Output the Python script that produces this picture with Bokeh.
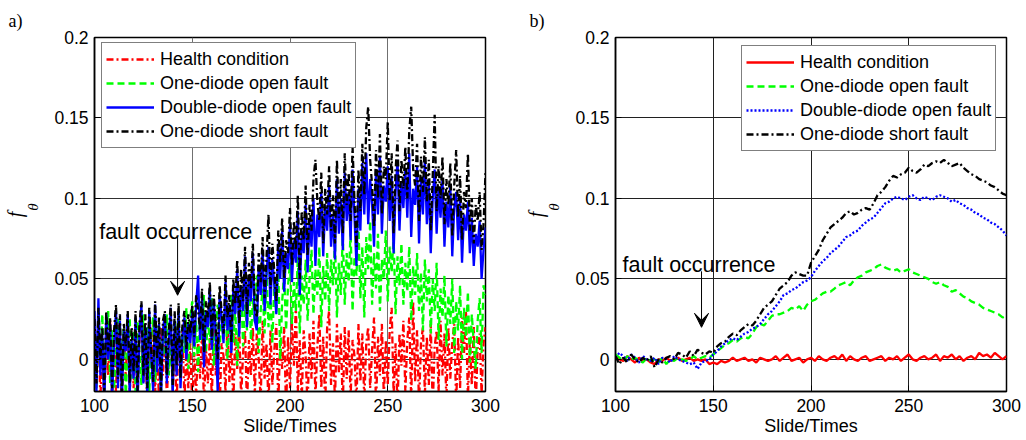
from bokeh.plotting import figure
from bokeh.layouts import row
from bokeh.models import (Legend, LegendItem, Label, Arrow, VeeHead, FixedTicker,
                          Range1d, CustomJSTickFormatter, LinearAxis, Title)
from bokeh.embed import file_html
from bokeh.resources import INLINE

# ---------------- data ----------------
x_a = list(range(100, 301))
x_b = list(range(100, 301, 2))

x_ticks = [100, 150, 200, 250, 300]
y_ticks = [0, 0.05, 0.1, 0.15, 0.2]
series_names = ["Health condition", "One-diode open fault",
                "Double-diode open fault", "One-diode short fault"]

health_a = [
    0.020, -0.015, 0.026, -0.025, 0.010, -0.030, 0.018, -0.010, 0.024, -0.028,
    0.015, -0.020, 0.022, 0.000, -0.030, 0.019, -0.012, 0.025, -0.022, 0.008,
    -0.018, 0.020, -0.026, 0.012, 0.028, -0.015, 0.017, -0.030, 0.010, -0.005,
    0.024, -0.022, 0.014, -0.028, 0.020, -0.010, 0.022, -0.025, 0.005, 0.018,
    -0.020, 0.012, -0.030, 0.016, -0.008, 0.020, -0.026, 0.006, -0.018, 0.010,
    -0.030, 0.004, -0.022, 0.012, -0.012, 0.018, -0.028, 0.008, -0.015, 0.014,
    -0.025, 0.020, -0.010, 0.015, -0.032, 0.010, 0.002, -0.020, 0.024, -0.014,
    0.010, -0.028, 0.016, -0.006, 0.022, -0.024, 0.004, 0.018, -0.030, 0.012,
    -0.010, 0.020, -0.022, 0.016, 0.000, -0.026, 0.024, -0.012, 0.010, -0.030,
    0.018, -0.016, 0.006, 0.022, -0.028, 0.012, -0.006, 0.020, -0.032, 0.014,
    -0.018, 0.022, -0.004, 0.034, -0.020, 0.012, -0.026, 0.018, 0.002, -0.030,
    0.016, -0.012, 0.024, -0.024, 0.008, 0.028, -0.018, 0.014, -0.030, 0.020,
    0.030, -0.016, 0.010, -0.026, 0.022, -0.008, 0.016, -0.030, 0.020, -0.012,
    0.018, -0.024, 0.012, 0.002, -0.028, 0.022, -0.014, 0.016, -0.026, 0.010,
    0.020, -0.018, 0.006, 0.026, -0.030, 0.014, -0.010, 0.022, -0.024, 0.012,
    -0.016, 0.018, 0.032, -0.022, 0.010, -0.030, 0.016, -0.004, 0.024, -0.020,
    0.012, 0.026, -0.026, 0.036, -0.014, 0.018, -0.028, 0.010, 0.020, -0.022,
    0.014, -0.016, 0.022, -0.030, 0.008, 0.018, -0.020, 0.024, -0.010, 0.016,
    -0.026, 0.020, -0.012, 0.010, 0.022, -0.028, 0.014, -0.018, 0.026, 0.004,
    0.030, -0.024, 0.012, -0.016, 0.020, -0.030, 0.008, 0.016, -0.022, 0.010,
    0.020]

one_open_a = [
    0.010, -0.018, 0.022, -0.005, 0.028, -0.020, 0.012, 0.030, -0.015, 0.018,
    -0.022, 0.015, 0.025, -0.010, 0.008, 0.020, -0.025, 0.014, 0.026, -0.012,
    0.018, -0.020, 0.024, 0.005, -0.016, 0.028, -0.008, 0.020, -0.022, 0.016,
    0.026, -0.014, 0.010, 0.022, -0.020, 0.018, 0.002, 0.028, -0.010, 0.015,
    -0.018, 0.024, 0.008, 0.030, -0.012, 0.020, 0.004, 0.032, -0.006, 0.026,
    0.036, 0.002, 0.024, -0.008, 0.030, 0.012, 0.040, 0.004, 0.026, 0.010,
    0.038, -0.004, 0.022, 0.034, 0.006, 0.028, 0.012, 0.036, 0.000, 0.024,
    0.040, 0.010, 0.032, -0.004, 0.026, 0.046, 0.008, 0.034, 0.018, 0.050,
    0.012, 0.038, 0.022, 0.052, 0.004, 0.030, 0.044, 0.016, 0.056, 0.020,
    0.040, 0.010, 0.050, 0.028, 0.058, 0.000, 0.036, 0.054, 0.018, 0.046,
    0.060, 0.022, 0.048, 0.030, 0.064, 0.016, 0.052, 0.034, 0.062, 0.024,
    0.050, 0.068, 0.028, 0.056, 0.040, 0.070, 0.020, 0.058, 0.036, 0.066,
    0.030, 0.062, 0.046, 0.074, 0.026, 0.060, 0.040, 0.078, 0.034, 0.066,
    0.048, 0.080, 0.030, 0.064, 0.052, 0.084, 0.038, 0.070, 0.026, 0.076,
    0.056, 0.086, 0.034, 0.066, 0.044, 0.078, 0.030, 0.062, 0.050, 0.080,
    0.036, 0.070, 0.054, 0.076, 0.028, 0.064, 0.046, 0.072, 0.034, 0.060,
    0.042, 0.070, 0.024, 0.058, 0.040, 0.066, 0.030, 0.054, 0.018, 0.062,
    0.036, 0.056, 0.016, 0.050, 0.030, 0.060, 0.012, 0.044, 0.026, 0.052,
    0.008, 0.040, 0.022, 0.050, 0.004, 0.036, 0.018, 0.046, 0.000, 0.032,
    0.014, 0.042, -0.002, 0.028, 0.010, -0.006, 0.024, 0.038, 0.004, 0.046,
    0.040]

double_open_a = [
    0.030, -0.020, 0.038, -0.010, 0.015, -0.030, 0.028, 0.000, 0.022, -0.025,
    0.010, 0.030, -0.018, 0.024, -0.028, 0.018, 0.005, 0.028, -0.022, 0.012,
    -0.012, 0.026, -0.030, 0.016, 0.034, -0.015, 0.020, -0.025, 0.030, 0.002,
    -0.020, 0.034, -0.008, 0.022, -0.026, 0.018, 0.028, -0.015, 0.010, 0.032,
    -0.022, 0.024, -0.010, 0.030, -0.018, 0.014, 0.026, 0.000, 0.022, 0.010,
    0.030, 0.008, 0.034, 0.052, 0.012, 0.038, -0.005, 0.030, 0.020, 0.044,
    0.006, 0.036, 0.016, -0.020, 0.040, 0.026, 0.010, 0.048, 0.018, 0.034,
    0.004, 0.044, 0.028, 0.056, 0.014, 0.046, 0.030, 0.064, 0.020, 0.052,
    0.036, 0.066, 0.024, 0.018, 0.058, 0.040, 0.068, 0.030, 0.054, 0.070,
    0.034, 0.062, 0.046, 0.028, 0.072, 0.050, 0.080, 0.042, 0.066, 0.056,
    0.084, 0.048, 0.074, 0.060, 0.092, 0.040, 0.080, 0.066, 0.096, 0.054,
    0.086, 0.070, 0.100, 0.058, 0.090, 0.076, 0.104, 0.064, 0.096, 0.080,
    0.108, 0.070, 0.090, 0.062, 0.112, 0.078, 0.100, 0.068, 0.116, 0.086,
    0.104, 0.074, 0.118, 0.088, 0.058, 0.106, 0.080, 0.122, 0.090, 0.128,
    0.084, 0.112, 0.096, 0.070, 0.118, 0.090, 0.126, 0.078, 0.108, 0.098,
    0.120, 0.086, 0.114, 0.066, 0.104, 0.124, 0.080, 0.110, 0.094, 0.118,
    0.088, 0.128, 0.076, 0.106, 0.096, 0.120, 0.072, 0.112, 0.090, 0.124,
    0.084, 0.110, 0.066, 0.100, 0.118, 0.078, 0.106, 0.088, 0.112, 0.070,
    0.098, 0.082, 0.108, 0.064, 0.094, 0.104, 0.074, 0.100, 0.060, 0.090,
    0.080, 0.098, 0.066, 0.088, 0.058, 0.078, 0.070, 0.086, 0.050, 0.068,
    0.082]

one_short_a = [
    0.025, -0.015, 0.032, 0.000, 0.020, -0.020, 0.030, 0.005, 0.026, -0.018,
    0.018, 0.034, -0.012, 0.028, -0.022, 0.022, 0.008, 0.030, -0.015, 0.020,
    -0.008, 0.030, -0.020, 0.022, 0.036, -0.010, 0.028, -0.018, 0.032, 0.006,
    -0.014, 0.036, 0.000, 0.026, -0.020, 0.024, 0.030, -0.010, 0.018, 0.034,
    -0.016, 0.030, -0.004, 0.035, -0.012, 0.022, 0.030, 0.006, 0.028, 0.016,
    0.034, 0.014, 0.040, 0.030, 0.018, 0.044, 0.004, 0.036, 0.026, 0.048,
    0.012, 0.040, 0.022, 0.000, 0.046, 0.030, 0.016, 0.052, 0.026, 0.040,
    0.010, 0.050, 0.034, 0.062, 0.022, 0.056, 0.036, 0.070, 0.028, 0.060,
    0.044, 0.072, 0.032, 0.026, 0.066, 0.048, 0.076, 0.038, 0.064, 0.090,
    0.044, 0.072, 0.054, 0.036, 0.080, 0.060, 0.088, 0.050, 0.074, 0.066,
    0.094, 0.058, 0.086, 0.068, 0.102, 0.050, 0.092, 0.074, 0.108, 0.064,
    0.096, 0.080, 0.112, 0.124, 0.098, 0.086, 0.116, 0.072, 0.106, 0.090,
    0.120, 0.080, 0.102, 0.072, 0.124, 0.088, 0.112, 0.078, 0.128, 0.096,
    0.116, 0.086, 0.132, 0.098, 0.070, 0.118, 0.092, 0.134, 0.102, 0.144,
    0.157, 0.124, 0.108, 0.082, 0.130, 0.100, 0.140, 0.090, 0.120, 0.112,
    0.148, 0.098, 0.128, 0.078, 0.118, 0.136, 0.092, 0.124, 0.106, 0.132,
    0.100, 0.142, 0.157, 0.118, 0.108, 0.134, 0.086, 0.126, 0.104, 0.138,
    0.098, 0.124, 0.080, 0.114, 0.152, 0.092, 0.120, 0.100, 0.126, 0.084,
    0.112, 0.096, 0.122, 0.076, 0.108, 0.130, 0.088, 0.114, 0.074, 0.104,
    0.094, 0.128, 0.080, 0.100, 0.072, 0.096, 0.086, 0.104, 0.068, 0.084,
    0.116]

health_b = [
    0.002, 0.000, -0.001, 0.002, 0.000, -0.002, 0.001, -0.001, 0.000, -0.002,
    -0.003, 0.000, -0.001, 0.001, -0.001, 0.000, 0.001, -0.001, 0.000, 0.001,
    -0.001, 0.000, -0.001, 0.000, -0.003, -0.002, -0.003, -0.001, -0.002, -0.001,
    0.001, -0.001, 0.000, 0.001, -0.001, 0.000, -0.002, 0.001, 0.000, -0.001,
    0.000, 0.002, -0.001, 0.001, 0.003, -0.001, 0.000, 0.001, -0.002, 0.000,
    0.001, -0.001, 0.002, 0.000, -0.001, 0.001, 0.002, 0.000, 0.003, -0.001,
    0.002, 0.000, -0.001, 0.001, 0.002, -0.001, 0.000, 0.001, 0.002, -0.001,
    0.001, 0.000, 0.002, -0.001, 0.001, 0.003, 0.000, -0.001, 0.001, 0.002,
    0.000, 0.001, 0.003, -0.001, 0.002, 0.001, 0.003, 0.000, 0.002, -0.001,
    0.001, 0.002, 0.000, 0.004, 0.002, 0.003, 0.001, 0.004, 0.002, 0.000,
    0.002]

one_open_b = [
    0.003, 0.001, -0.001, 0.002, 0.000, 0.001, -0.001, -0.002, 0.001, -0.001,
    0.000, -0.002, 0.001, -0.003, 0.000, -0.001, 0.001, 0.000, -0.001, 0.000,
    0.002, 0.000, 0.001, 0.002, 0.001, 0.003, 0.005, 0.007, 0.009, 0.010,
    0.012, 0.011, 0.013, 0.014, 0.013, 0.016, 0.020, 0.022, 0.021, 0.024,
    0.027, 0.028, 0.028, 0.029, 0.030, 0.032, 0.031, 0.033, 0.030, 0.034,
    0.036, 0.037, 0.039, 0.041, 0.042, 0.042, 0.044, 0.046, 0.047, 0.048,
    0.046, 0.049, 0.051, 0.052, 0.054, 0.055, 0.056, 0.058, 0.059, 0.057,
    0.056, 0.055, 0.056, 0.054, 0.055, 0.056, 0.054, 0.053, 0.052, 0.051,
    0.050, 0.048, 0.047, 0.048, 0.046, 0.045, 0.042, 0.043, 0.041, 0.039,
    0.038, 0.036, 0.035, 0.034, 0.032, 0.031, 0.030, 0.029, 0.028, 0.026,
    0.027]

double_open_b = [
    0.001, 0.004, 0.002, -0.001, 0.003, 0.001, -0.002, 0.002, 0.000, -0.001,
    0.001, -0.003, 0.001, 0.000, -0.002, 0.002, 0.000, -0.001, -0.002, -0.003,
    -0.002, -0.006, -0.002, -0.001, 0.000, 0.003, 0.005, 0.008, 0.010, 0.012,
    0.013, 0.012, 0.014, 0.016, 0.017, 0.019, 0.020, 0.022, 0.025, 0.028,
    0.030, 0.033, 0.036, 0.040, 0.041, 0.043, 0.044, 0.046, 0.048, 0.049,
    0.051, 0.055, 0.058, 0.061, 0.063, 0.066, 0.068, 0.070, 0.073, 0.076,
    0.077, 0.079, 0.080, 0.083, 0.085, 0.087, 0.088, 0.091, 0.094, 0.097,
    0.098, 0.100, 0.101, 0.100, 0.099, 0.101, 0.102, 0.100, 0.099, 0.101,
    0.100, 0.099, 0.101, 0.102, 0.101, 0.100, 0.098, 0.099, 0.097, 0.096,
    0.094, 0.093, 0.091, 0.090, 0.088, 0.087, 0.085, 0.084, 0.082, 0.080,
    0.077]

one_short_b = [
    0.002, -0.003, 0.001, -0.002, 0.003, 0.000, -0.002, 0.001, -0.001, 0.002,
    -0.005, 0.000, -0.002, 0.001, 0.002, 0.000, 0.004, 0.003, 0.001, 0.005,
    0.002, 0.006, 0.004, 0.003, 0.005, 0.004, 0.008, 0.010, 0.011, 0.014,
    0.016, 0.015, 0.018, 0.020, 0.022, 0.021, 0.024, 0.028, 0.032, 0.034,
    0.036, 0.040, 0.044, 0.046, 0.048, 0.052, 0.054, 0.053, 0.052, 0.052,
    0.060, 0.064, 0.068, 0.074, 0.078, 0.082, 0.084, 0.086, 0.088, 0.091,
    0.092, 0.090, 0.091, 0.093, 0.094, 0.093, 0.097, 0.102, 0.104, 0.107,
    0.111, 0.114, 0.113, 0.115, 0.116, 0.119, 0.117, 0.116, 0.118, 0.121,
    0.120, 0.122, 0.123, 0.122, 0.124, 0.122, 0.120, 0.121, 0.122, 0.119,
    0.117, 0.115, 0.114, 0.112, 0.111, 0.110, 0.108, 0.107, 0.105, 0.103,
    0.102]

FONT = "Liberation Sans"
SERIF = "Liberation Serif"


def make_panel(xs, series, styles, panel_letter, left_border, right_border,
               legend_loc, grid_x_color, grid_y_color, note_x, note_y,
               arrow_x, arrow_y0, arrow_y1):
    p = figure(frame_width=391, frame_height=354,
               x_range=Range1d(100, 300), y_range=Range1d(-0.02, 0.2),
               output_backend="svg", toolbar_location=None,
               min_border_left=left_border, min_border_right=right_border,
               min_border_top=37, min_border_bottom=49)
    p.background_fill_color = "white"
    p.border_fill_color = "white"
    p.outline_line_color = "black"
    p.outline_line_width = 1.5

    # panel letter as a title
    p.title = Title(text=panel_letter, align="left", offset=-86,
                    text_font=SERIF, text_font_size="18px",
                    text_font_style="normal", text_color="black",
                    standoff=14)

    p.xaxis.ticker = FixedTicker(ticks=x_ticks)
    p.yaxis.ticker = FixedTicker(ticks=y_ticks)
    p.yaxis.formatter = CustomJSTickFormatter(
        code="return tick.toFixed(2).replace(/\\.?0+$/, '');")
    for ax in (p.xaxis, p.yaxis):
        ax.major_label_text_font = FONT
        ax.major_label_text_font_size = "17.5px"
        ax.major_label_text_color = "black"
        ax.axis_line_color = "black"
        ax.axis_line_width = 1.5
        ax.major_tick_in = 6
        ax.major_tick_out = 0
        ax.major_tick_line_color = "black"
        ax.minor_tick_line_color = None
    p.xaxis.major_label_standoff = 7
    p.yaxis.major_label_standoff = 6
    p.xaxis.axis_label = "Slide/Times"
    p.xaxis.axis_label_text_font = FONT
    p.xaxis.axis_label_text_font_size = "18px"
    p.xaxis.axis_label_text_font_style = "normal"
    p.xaxis.axis_label_text_color = "black"
    p.xaxis.axis_label_standoff = 1

    # y label: subscript theta on the main axis, italic f on an outer axis
    p.yaxis.axis_label = "\u00a0\u00a0\u00a0\u00a0\u03b8"
    p.yaxis.axis_label_text_font = SERIF
    p.yaxis.axis_label_text_font_style = "italic"
    p.yaxis.axis_label_text_font_size = "15px"
    p.yaxis.axis_label_text_color = "black"
    p.yaxis.axis_label_standoff = 10

    f_axis = LinearAxis(ticker=FixedTicker(ticks=[]), axis_label="f",
                        axis_label_text_font=SERIF,
                        axis_label_text_font_style="italic",
                        axis_label_text_font_size="20px",
                        axis_label_text_color="black",
                        axis_label_standoff=-3, major_label_standoff=0,
                        axis_line_color=None, major_tick_line_color=None,
                        minor_tick_line_color=None,
                        major_tick_in=0, major_tick_out=0,
                        minor_tick_in=0, minor_tick_out=0)
    p.add_layout(f_axis, "left")

    p.xgrid.grid_line_color = grid_x_color
    p.ygrid.grid_line_color = grid_y_color
    p.xgrid.grid_line_width = 1
    p.ygrid.grid_line_width = 1

    items = []
    for name, ys, (color, dash) in zip(series_names, series, styles):
        r = p.line(xs, ys, line_color=color, line_width=2.3, line_dash=dash)
        items.append(LegendItem(label=name, renderers=[r]))

    legend = Legend(items=items, location=legend_loc,
                    label_text_font=FONT, label_text_font_size="18px",
                    label_text_color="black",
                    border_line_color="black", border_line_width=1.5,
                    background_fill_color="white", background_fill_alpha=1,
                    padding=4, spacing=0, margin=0,
                    label_height=24, glyph_height=24, glyph_width=48,
                    label_standoff=6)
    p.add_layout(legend)

    # annotation text and arrow
    p.add_layout(Label(x=note_x, y=note_y, text="fault occurrence",
                       text_font=FONT, text_font_size="21.5px",
                       text_color="black", text_baseline="alphabetic"))
    p.add_layout(Arrow(x_start=arrow_x, y_start=arrow_y0, x_end=arrow_x,
                       y_end=arrow_y1, line_color="black", line_width=1,
                       end=VeeHead(size=14, fill_color="black",
                                   line_color="black", line_width=1)))
    return p


styles_a = [("#ff0000", "7 3 2 3"), ("#00ff00", "7 4"),
            ("#0000ff", "solid"), ("#000000", "7 3 2 3")]
styles_b = [("#ff0000", "solid"), ("#00ff00", "7 4"),
            ("#0000ff", "2 2"), ("#000000", "7 3 2 3")]

pa = make_panel(x_a, [health_a, one_open_a, double_open_a, one_short_a],
                styles_a, "a)", 93, 36, (7, 243), "#707070", "#303030",
                102.4, 0.0789, 142.5, 0.076, 0.0398)
pb = make_panel(x_b, [health_b, one_open_b, double_open_b, one_short_b],
                styles_b, "b)", 94, 21, (126, 240), "#202020", "#202020",
                103.6, 0.0584, 144.0, 0.0547, 0.0199)

layout = row(pa, pb)
open("out.html", "w").write(file_html(layout, INLINE))
